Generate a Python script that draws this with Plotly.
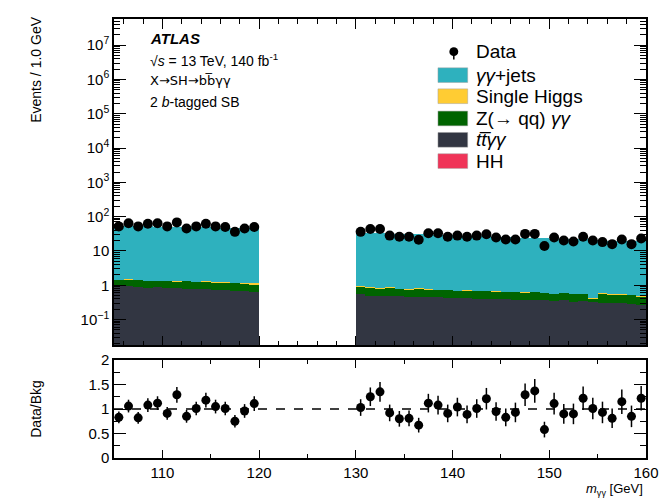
import plotly.graph_objects as go

# ---------------- data ----------------
bin_centers = [105.5, 106.5, 107.5, 108.5, 109.5, 110.5, 111.5, 112.5, 113.5, 114.5,
               115.5, 116.5, 117.5, 118.5, 119.5,
               130.5, 131.5, 132.5, 133.5, 134.5, 135.5, 136.5, 137.5, 138.5, 139.5,
               140.5, 141.5, 142.5, 143.5, 144.5, 145.5, 146.5, 147.5, 148.5, 149.5,
               150.5, 151.5, 152.5, 153.5, 154.5, 155.5, 156.5, 157.5, 158.5, 159.5]

data_events = [52, 64, 52, 62, 64, 52, 68, 45, 52, 62, 52, 50, 36, 45, 50,
               36, 43.6, 43.6, 28, 25.8, 25.8, 21.2, 32.7, 32.7, 25.8,
               28, 25.8, 28, 30.6, 24.6, 21.6, 21.6, 31.4, 31.4, 13.9,
               24.6, 20.2, 18.9, 25.8, 20.2, 18.1, 15.8, 21.6, 15.8, 23.1]

ttyy = [0.93, 0.92, 0.90, 0.85, 0.87, 0.82, 0.82, 0.80, 0.78, 0.77, 0.74, 0.72, 0.70, 0.68, 0.64,
        0.54, 0.50, 0.48, 0.48, 0.47, 0.46, 0.45, 0.45, 0.44, 0.43, 0.42, 0.42, 0.41, 0.40, 0.41,
        0.39, 0.38, 0.37, 0.38, 0.36, 0.34, 0.36, 0.33, 0.35, 0.32, 0.31, 0.30, 0.30, 0.29, 0.27]

zqq_yy = [0.50, 0.55, 0.54, 0.52, 0.48, 0.55, 0.50, 0.56, 0.50, 0.52, 0.50, 0.48, 0.48, 0.45, 0.44,
          0.35, 0.36, 0.33, 0.38, 0.32, 0.30, 0.38, 0.30, 0.30, 0.30, 0.28, 0.30, 0.27, 0.28, 0.25,
          0.26, 0.27, 0.25, 0.26, 0.25, 0.22, 0.24, 0.23, 0.22, 0.10, 0.28, 0.24, 0.25, 0.23, 0.20]

single_higgs = [0.002, 0.002, 0.002, 0.002, 0.002, 0.002, 0.002, 0.002, 0.002, 0.003, 0.003, 0.004,
                0.006, 0.012, 0.06,
                0.07, 0.02, 0.008, 0.004, 0.003, 0.002, 0.002, 0.002, 0.002, 0.002, 0.002, 0.002,
                0.002, 0.002, 0.002, 0.002, 0.002, 0.002, 0.002, 0.002, 0.002, 0.002, 0.002, 0.002,
                0.002, 0.002, 0.002, 0.002, 0.002, 0.002]

hh = [0.001] * 45

yy_jets = [52, 51.5, 51, 50.5, 50, 49.5, 49, 48.5, 48, 47.5, 47, 46, 45.5, 45, 44,
           33.5, 33, 32, 31, 30.5, 30, 29.5, 29, 28.5, 28, 27, 27, 26.5, 26, 25.5,
           25, 24, 23.5, 23, 23, 22.5, 22, 21.5, 21, 20.5, 20, 19.5, 19, 18.7, 18.4]

ratio = [0.83, 1.06, 0.82, 1.08, 1.12, 0.91, 1.29, 0.85, 1.01, 1.18, 1.05, 1.01, 0.75, 0.96, 1.11,
         1.03, 1.25, 1.35, 0.92, 0.80, 0.81, 0.67, 1.12, 1.08, 0.91, 1.04, 0.89, 1.01, 1.21, 0.95,
         0.83, 0.93, 1.29, 1.37, 0.58, 1.11, 0.90, 0.90, 1.22, 1.01, 0.93, 0.81, 1.15, 0.85, 1.22]

ratio_err = [0.12, 0.13, 0.12, 0.14, 0.14, 0.13, 0.16, 0.13, 0.14, 0.15, 0.14, 0.14, 0.13, 0.14, 0.15,
             0.17, 0.19, 0.20, 0.17, 0.16, 0.16, 0.15, 0.19, 0.19, 0.18, 0.19, 0.18, 0.19, 0.22, 0.19,
             0.18, 0.20, 0.23, 0.24, 0.16, 0.22, 0.20, 0.21, 0.24, 0.22, 0.22, 0.20, 0.25, 0.22, 0.25]

main_ytick_vals = [0.1, 1, 10, 100, 1e3, 1e4, 1e5, 1e6, 1e7]
main_ytick_text = ["10<sup>−1</sup>", "1", "10", "10<sup>2</sup>", "10<sup>3</sup>",
                   "10<sup>4</sup>", "10<sup>5</sup>", "10<sup>6</sup>", "10<sup>7</sup>"]
ratio_ytick_vals = [0, 0.5, 1, 1.5, 2]
ratio_ytick_text = ["0", "0.5", "1", "1.5", "2"]

legend_labels = ["Data", "<i>γγ</i>+jets", "Single Higgs", "Z(→ qq) <i>γγ</i>",
                 "<i>tt\u0305γγ</i>", "HH"]

# ---------------- styling ----------------
C_YY = "rgb(46,177,190)"
C_SH = "rgb(255,204,51)"
C_Z = "rgb(0,100,0)"
C_TT = "rgb(50,54,66)"
C_HH = "rgb(240,52,88)"
FONT = "Liberation Sans, Arial, sans-serif"

W, H = 669, 503
ML, MR, MT, MB = 114, 18, 10, 45
PW = W - ML - MR
PH = H - MT - MB


def px(x):
    return (x - ML) / PW


def py(y):
    return (H - MB - y) / PH


main_bottom = py(343)
ratio_top = py(358)

fig = go.Figure()

stack = [("HH", hh, C_HH), ("ttyy", ttyy, C_TT), ("Z(qq)yy", zqq_yy, C_Z),
         ("Single Higgs", single_higgs, C_SH), ("yy+jets", yy_jets, C_YY)]
for name, vals, col in stack:
    fig.add_trace(go.Bar(x=bin_centers, y=vals, width=1.0, name=name,
                         marker=dict(color=col, line=dict(width=0)),
                         xaxis="x", yaxis="y", showlegend=False))

fig.add_trace(go.Scatter(x=bin_centers, y=data_events, mode="markers", name="Data",
                         marker=dict(color="black", size=10), xaxis="x", yaxis="y",
                         showlegend=False))

fig.add_trace(go.Scatter(x=bin_centers, y=ratio, mode="markers", name="Data/Bkg",
                         marker=dict(color="black", size=9),
                         error_y=dict(type="data", array=ratio_err, color="black",
                                      thickness=1.5, width=0),
                         xaxis="x2", yaxis="y2", showlegend=False))

minor_log = [m * 10 ** e for e in range(-2, 8) for m in range(2, 10)]

axis_common = dict(showline=True, linecolor="black", linewidth=1.5, mirror="allticks",
                   ticks="inside", tickcolor="black", tickwidth=1, showgrid=False,
                   zeroline=False, tickfont=dict(family=FONT, size=15, color="black"))

fig.update_layout(
    width=W, height=H,
    margin=dict(l=ML, r=MR, t=MT, b=MB),
    paper_bgcolor="white", plot_bgcolor="white",
    barmode="stack", bargap=0,
    font=dict(family=FONT, color="black"),
    xaxis=dict(domain=[0, 1], anchor="y", range=[105, 160], showticklabels=False,
               tick0=0, dtick=10, ticklen=10,
               minor=dict(ticks="inside", dtick=2, ticklen=5, tickcolor="black", showgrid=False),
               **axis_common),
    yaxis=dict(domain=[main_bottom, 1], anchor="x", type="log", range=[-1.75, 7.76],
               tickmode="array", tickvals=main_ytick_vals, ticktext=main_ytick_text,
               ticklen=12,
               minor=dict(ticks="inside", tickmode="array", tickvals=minor_log, ticklen=6,
                          tickcolor="black", showgrid=False),
               **axis_common),
    xaxis2=dict(domain=[0, 1], anchor="y2", range=[105, 160], tick0=0, dtick=10, ticklen=8,
                minor=dict(ticks="inside", dtick=5, ticklen=4, tickcolor="black", showgrid=False),
                **axis_common),
    yaxis2=dict(domain=[0, ratio_top], anchor="x2", range=[0, 2],
                tickmode="array", tickvals=ratio_ytick_vals, ticktext=ratio_ytick_text,
                ticklen=12,
                minor=dict(ticks="inside", dtick=0.25, ticklen=6, tickcolor="black", showgrid=False),
                **axis_common),
    showlegend=False,
)

# reference line at ratio = 1
fig.add_shape(type="line", xref="x2", yref="y2", x0=105, x1=160, y0=1, y1=1,
              line=dict(color="black", width=1.5, dash="dash"), layer="below")

# ---------------- text ----------------
txt = dict(family=FONT, size=14, color="black")
fig.add_annotation(xref="paper", yref="paper", x=px(148), y=py(30), xanchor="left", yanchor="middle",
                   text="<b><i>ATLAS</i></b>", showarrow=False, font=dict(family=FONT, size=15, color="black"))
fig.add_annotation(xref="paper", yref="paper", x=px(148), y=py(51.5), xanchor="left", yanchor="middle",
                   text="√<i>s</i> = 13 TeV, 140 fb<sup>-1</sup>", showarrow=False, font=txt)
fig.add_annotation(xref="paper", yref="paper", x=px(148), y=py(73), xanchor="left", yanchor="middle",
                   text="X→SH→bb\u0305γγ", showarrow=False,
                   font=dict(family="DejaVu Sans, " + FONT, size=13, color="black"))
fig.add_annotation(xref="paper", yref="paper", x=px(148), y=py(95), xanchor="left", yanchor="middle",
                   text="2 <i>b</i>-tagged SB", showarrow=False, font=txt)

fig.add_annotation(xref="paper", yref="paper", x=px(35), y=py(6), xanchor="center", yanchor="top",
                   text="Events / 1.0 GeV", textangle=-90, showarrow=False, font=txt)
fig.add_annotation(xref="paper", yref="paper", x=px(35), y=py(408), xanchor="center", yanchor="middle",
                   text="Data/Bkg", textangle=-90, showarrow=False, font=txt)
fig.add_annotation(xref="paper", yref="paper", x=px(650), y=py(490), xanchor="right", yanchor="middle",
                   text="<i>m</i><sub>γγ</sub> [GeV]", showarrow=False,
                   font=dict(family=FONT, size=13, color="black"))

# ---------------- legend (drawn manually, ROOT style) ----------------
row_y = [43.3, 67.3, 88.8, 111.5, 133.3, 155.0]
fill_cols = [None, C_YY, C_SH, C_Z, C_TT, C_HH]
for i, (lab, col) in enumerate(zip(legend_labels, fill_cols)):
    yc = row_y[i]
    if col is None:
        fig.add_shape(type="circle", xref="paper", yref="paper",
                      x0=px(452.5), x1=px(461.5), y0=py(yc + 4.5), y1=py(yc - 4.5),
                      fillcolor="black", line=dict(color="black", width=0))
        fig.add_shape(type="line", xref="paper", yref="paper",
                      x0=px(457), x1=px(457), y0=py(yc), y1=py(yc + 8),
                      line=dict(color="black", width=1.5))
    else:
        fig.add_shape(type="rect", xref="paper", yref="paper",
                      x0=px(441), x1=px(471), y0=py(yc + 7.5), y1=py(yc - 7.5),
                      fillcolor=col, line=dict(color="rgba(160,160,160,0.6)", width=0.8))
    fig.add_annotation(xref="paper", yref="paper", x=px(477), y=py(yc), xanchor="left",
                       yanchor="middle", text=lab, showarrow=False,
                       font=dict(family=FONT, size=19, color="black"))

fig.write_html("out.html", config={"displayModeBar": False},
               post_script="document.body.style.margin='0px';")
